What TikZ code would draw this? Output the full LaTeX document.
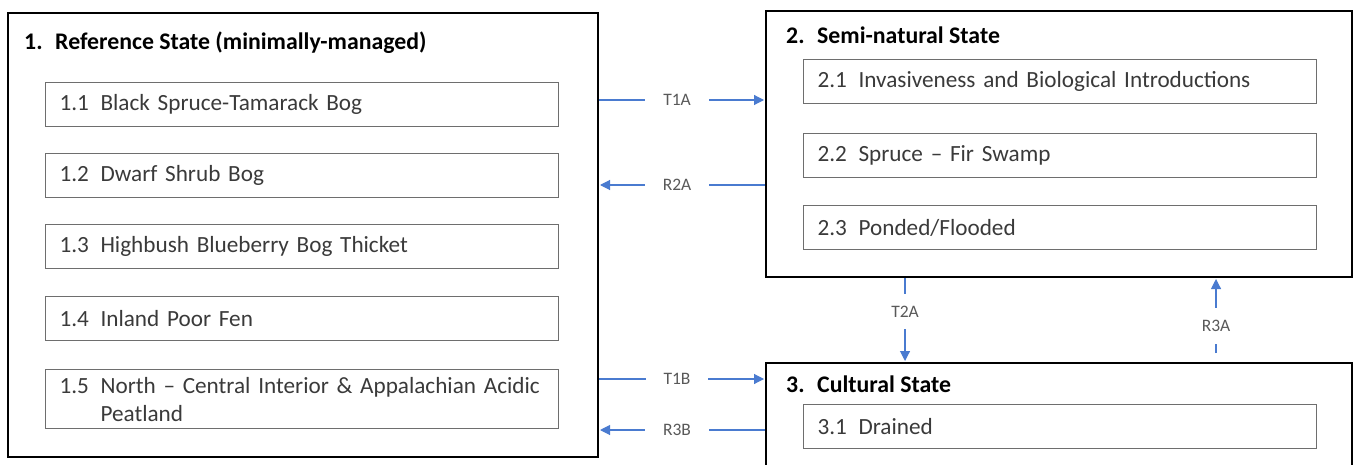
\documentclass[tikz,border=0pt]{standalone}
\usepackage{fontspec}
\setmainfont{Carlito}
\usetikzlibrary{arrows.meta}
\definecolor{flow}{HTML}{4A7BD0}
\definecolor{subtxt}{HTML}{3A3A3A}
\definecolor{subline}{HTML}{6E6E6E}
\definecolor{lbltxt}{HTML}{595959}
\newcommand\phaseitem[2]{\makebox[41pt][l]{#1}\parbox[t]{444pt}{\raggedright #2}}
\tikzset{
  statebox/.style={draw=black, line width=2pt, anchor=north west, inner sep=0pt},
  statetitle/.style={anchor=west, inner sep=0pt, font=\fontsize{23.8}{28}\selectfont\bfseries},
  phasebox/.style={draw=subline, line width=1.1pt, anchor=north west, text width=485pt,
    inner xsep=14pt, inner ysep=0pt, minimum height=44pt, align=left, text=subtxt,
    font=\fontsize{23.2}{28}\selectfont},
  conn/.style={draw=flow, line width=1.1pt, shorten >=1pt, -{Triangle[length=10pt,width=10pt]}},
  lblh/.style={fill=white, text=lbltxt, font=\fontsize{17.5}{20}\selectfont, inner xsep=18pt, inner ysep=2pt},
  lblv/.style={fill=white, text=lbltxt, font=\fontsize{17.5}{20}\selectfont, inner xsep=2pt, inner ysep=12pt}
}
\begin{document}
\begin{tikzpicture}[x=1pt, y=-1pt]
\useasboundingbox (0,0) rectangle (1356,465);
\clip (0,0) rectangle (1356,465);

% state containers
\node[statebox, minimum width=590pt, minimum height=444pt] (s1) at (7,12) {};
\node[statebox, minimum width=586pt, minimum height=266pt] (s2) at (765,10) {};
\node[statebox, minimum width=586pt, minimum height=170pt] (s3) at (765,362) {};

% state titles
\node[statetitle] (t1) at (24,43) {\makebox[31pt][l]{1.}Reference State (minimally-managed)};
\node[statetitle] (t2) at (786,35) {\makebox[31pt][l]{2.}Semi-natural State};
\node[statetitle] (t3) at (786,384) {\makebox[31pt][l]{3.}Cultural State};

% community phases
\node[phasebox] (p11) at (45,82) {\phaseitem{1.1}{Black Spruce-Tamarack Bog}};
\node[phasebox] (p12) at (45,153) {\phaseitem{1.2}{Dwarf Shrub Bog}};
\node[phasebox] (p13) at (45,224) {\phaseitem{1.3}{Highbush Blueberry Bog Thicket}};
\node[phasebox] (p14) at (45,296) {\phaseitem{1.4}{Inland Poor Fen}};
\node[phasebox, minimum height=59pt] (p15) at (45,369) {\phaseitem{1.5}{North -- Central Interior \& Appalachian Acidic Peatland}};

\node[phasebox] (p21) at (803,59) {\phaseitem{2.1}{Invasiveness and Biological Introductions}};
\node[phasebox] (p22) at (803,133) {\phaseitem{2.2}{Spruce -- Fir Swamp}};
\node[phasebox] (p23) at (803,205) {\phaseitem{2.3}{Ponded/Flooded}};

\node[phasebox] (p31) at (803,404) {\phaseitem{3.1}{Drained}};

% transition and restoration pathways
\coordinate (yT1A) at (0,100);
\coordinate (yR2A) at (0,185);
\coordinate (yT1B) at (0,379);
\coordinate (yR3B) at (0,430);
\coordinate (xT2A) at (905,0);
\coordinate (xR3A) at (1216,0);

\draw[conn] (s1.east |- yT1A) -- node[lblh, pos=0.47]{T1A} (s2.west |- yT1A);
\draw[conn] (s2.west |- yR2A) -- node[lblh, pos=0.53]{R2A} (s1.east |- yR2A);
\draw[conn] (s1.east |- yT1B) -- node[lblh, pos=0.47]{T1B} (s3.west |- yT1B);
\draw[conn] (s3.west |- yR3B) -- node[lblh, pos=0.53]{R3B} (s1.east |- yR3B);
\draw[conn] (s2.south -| xT2A) -- node[lblv, pos=0.4]{T2A} (s3.north -| xT2A);
\draw[conn, shorten <=9pt] (s3.north -| xR3A) -- node[lblv, pos=0.43]{R3A} (s2.south -| xR3A);
\end{tikzpicture}
\end{document}
